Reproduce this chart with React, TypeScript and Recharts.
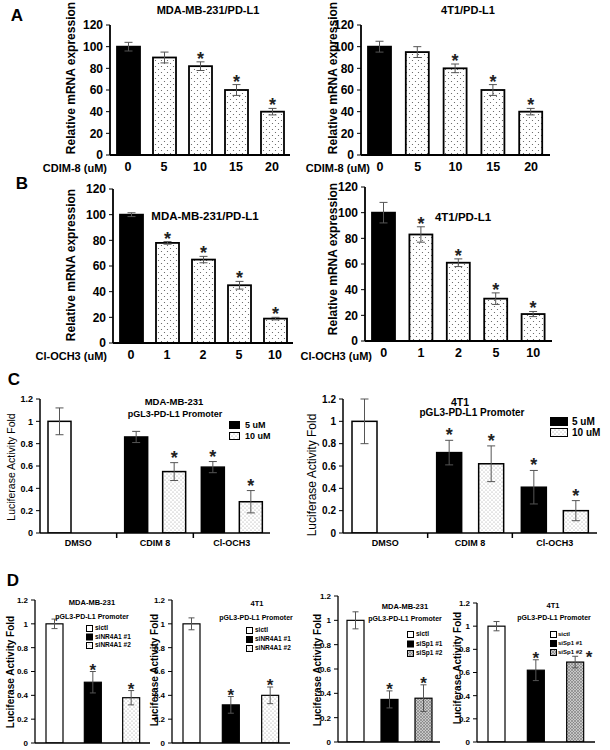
import React from "react";
import { BarChart, Bar, XAxis, YAxis, ErrorBar } from "recharts";

const FONT = '"Liberation Sans", Arial, sans-serif';

// A: CDIM-8 dose response, relative mRNA
const aDoses = ["0", "5", "10", "15", "20"];
const aMdaVals = [100, 90, 82, 60, 40];
const aMdaErrs = [4, 5, 4, 5, 3];
const a4t1Vals = [100, 95, 80, 60, 40];
const a4t1Errs = [5, 5, 4, 5, 3];
const aStars = [false, false, true, true, true];

// B: Cl-OCH3 dose response
const bDoses = ["0", "1", "2", "5", "10"];
const bMdaVals = [100, 78, 65, 45, 19];
const bMdaErrs = [1.5, 1, 2.5, 3, 1];
const b4t1Vals = [100, 83, 61, 33, 21];
const b4t1Errs = [8, 6, 3, 4.5, 2];
const bStars = [false, true, true, true, true];

const mrnaTicks = [0, 20, 40, 60, 80, 100, 120];
const foldTicks = [0, 0.2, 0.4, 0.6, 0.8, 1, 1.2];

// C: promoter luciferase, 5 uM / 10 uM
const cGroups = ["DMSO", "CDIM 8", "Cl-OCH3"];
const cDoses = ["5 uM", "10 uM"];
const cMda5 = [1.0, 0.86, 0.59];
const cMda5Err = [0.12, 0.05, 0.05];
const cMda5Star = [false, false, true];
const cMda10 = [null, 0.55, 0.28];
const cMda10Err = [null, 0.08, 0.1];
const cMda10Star = [false, true, true];
const c4t15 = [1.0, 0.72, 0.41];
const c4t15Err = [0.2, 0.11, 0.15];
const c4t15Star = [false, true, true];
const c4t110 = [null, 0.62, 0.2];
const c4t110Err = [null, 0.16, 0.09];
const c4t110Star = [false, true, true];

// D: knockdown
const dNr4a1 = ["sictl", "siNR4A1 #1", "siNR4A1 #2"];
const dSp1 = ["sictl", "siSp1 #1", "siSp1 #2"];
const dStars = [false, true, true];
const d1Vals = [1.0, 0.51, 0.38];
const d1Errs = [0.04, 0.09, 0.06];
const d2Vals = [1.0, 0.32, 0.4];
const d2Errs = [0.05, 0.07, 0.07];
const d3Vals = [1.0, 0.35, 0.36];
const d3Errs = [0.07, 0.07, 0.11];
const d4Vals = [1.0, 0.62, 0.69];
const d4Errs = [0.04, 0.09, 0.05];

const rows1 = (cats: string[], v: number[], e: number[], s: boolean[]) =>
  cats.map((name, i) => ({ name, v1: v[i], e1: e[i], s1: s[i] }));

const rows2 = (
  cats: string[],
  v1: (number | null)[], e1: (number | null)[], s1: boolean[],
  v2: (number | null)[], e2: (number | null)[], s2: boolean[]
) =>
  cats.map((name, i) => ({
    name, v1: v1[i], e1: e1[i], s1: s1[i], v2: v2[i], e2: e2[i], s2: s2[i],
  }));

type Series = { key: string; errKey: string; starKey: string; fills: string[] };

type PanelProps = {
  left: number;
  top: number;
  plotW: number;
  plotH: number;
  data: any[];
  series: Series[];
  yMax: number;
  yTicks: number[];
  yFont: number;
  xFont?: number;
  showX?: boolean;
  sepTicks?: boolean;
  barSize: number;
  barGap?: number;
  capW: number;
  strokeW: number;
  axisW: number;
  starSize: number;
  starDy: number;
  starDx?: number[];
  xDy?: number;
};

function Panel(p: PanelProps) {
  const yW = 40;
  const mt = 20;
  const mr = 4;
  const xH = p.showX === false ? 4 : 26;
  const axisY = mt + p.plotH;
  const n = p.data.length;
  const bandW = p.plotW / n;

  const xTick = (tp: any) => {
    const idx = tp.index ?? tp.payload?.index ?? 0;
    return (
      <g>
        <text
          x={tp.x}
          y={axisY + (p.xDy ?? 16)}
          textAnchor="middle"
          fontSize={p.xFont}
          fontWeight="bold"
          fontFamily={FONT}
          fill="#000"
        >
          {tp.payload.value}
        </text>
        {p.sepTicks && idx < n - 1 && (
          <line
            x1={tp.x + bandW / 2}
            x2={tp.x + bandW / 2}
            y1={axisY}
            y2={axisY + 5}
            stroke="#000"
            strokeWidth={1.5}
          />
        )}
      </g>
    );
  };

  const makeShape = (s: Series) => (b: any) => {
    const row = b.payload;
    const v = row[s.key];
    if (v == null || !isFinite(b.height)) return <g />;
    const e = row[s.errKey] ?? 0;
    const errTop = b.y - (b.height * e) / v;
    const dx = p.starDx ? p.starDx[b.index] ?? 0 : 0;
    return (
      <g>
        <rect
          x={b.x}
          y={b.y}
          width={b.width}
          height={b.height}
          fill={s.fills[b.index]}
          stroke="#000"
          strokeWidth={p.strokeW}
        />
        {row[s.starKey] && (
          <text
            x={b.x + b.width / 2 + dx}
            y={errTop + p.starDy + (dx ? 3 : 0)}
            textAnchor="middle"
            fontSize={p.starSize}
            fontWeight="bold"
            fontFamily={FONT}
            fill="#222"
          >
            *
          </text>
        )}
      </g>
    );
  };

  return (
    <div style={{ position: "absolute", left: p.left - yW, top: p.top - mt }}>
      <BarChart
        width={yW + p.plotW + mr}
        height={mt + p.plotH + xH}
        data={p.data}
        margin={{ top: mt, right: mr, left: 0, bottom: 0 }}
        barSize={p.barSize}
        barGap={p.barGap ?? 4}
      >
        <XAxis
          dataKey="name"
          height={xH}
          axisLine={{ stroke: "#000", strokeWidth: p.axisW }}
          tickLine={false}
          tick={p.showX === false ? false : xTick}
          interval={0}
        />
        <YAxis
          width={yW}
          domain={[0, p.yMax]}
          ticks={p.yTicks}
          interval={0}
          allowDataOverflow
          axisLine={{ stroke: "#000", strokeWidth: p.axisW }}
          tickLine={{ stroke: "#000", strokeWidth: 1 }}
          tickSize={4}
          tickMargin={3}
          tick={{ fontSize: p.yFont, fontWeight: "bold", fill: "#000", fontFamily: FONT }}
        />
        {p.series.map((s) => (
          <Bar key={s.key} dataKey={s.key} isAnimationActive={false} shape={makeShape(s)}>
            <ErrorBar dataKey={s.errKey} width={p.capW} stroke="#555" strokeWidth={1} direction="y" />
          </Bar>
        ))}
      </BarChart>
    </div>
  );
}

function Txt(props: {
  x: number; y: number; text: string; size: number;
  bold?: boolean; anchor?: "start" | "middle" | "end"; rotate?: boolean;
}) {
  const { x, y, text, size, bold = true, anchor = "middle", rotate = false } = props;
  const tx = anchor === "middle" ? "-50%" : anchor === "end" ? "-100%" : "0";
  return (
    <div
      style={{
        position: "absolute",
        left: x,
        top: y,
        transform: `translate(${tx}, -50%)${rotate ? " rotate(-90deg)" : ""}`,
        fontFamily: FONT,
        fontSize: size,
        fontWeight: bold ? "bold" : "normal",
        whiteSpace: "nowrap",
        lineHeight: 1,
        color: "#000",
      }}
    >
      {text}
    </div>
  );
}

function Legend(props: {
  x: number; y: number; labels: string[]; fills: string[];
  box: [number, number]; gap: number; size: number; textX: number;
}) {
  const { x, y, labels, fills, box, gap, size, textX } = props;
  return (
    <svg
      style={{ position: "absolute", left: x, top: y, overflow: "visible" }}
      width={80}
      height={gap * labels.length}
    >
      {labels.map((l, i) => (
        <g key={l}>
          <rect x={0.5} y={i * gap + 0.5} width={box[0]} height={box[1]} fill={fills[i]} stroke="#000" strokeWidth={1} />
          <text
            x={textX}
            y={i * gap + box[1] / 2 + size * 0.36}
            fontSize={size}
            fontWeight="bold"
            fontFamily={FONT}
          >
            {l}
          </text>
        </g>
      ))}
    </svg>
  );
}

const DOTS_A = "url(#dotsA)";
const DOTS_C = "url(#dotsC)";
const HATCH = "url(#hatch)";

const abFills = ["#000", DOTS_A, DOTS_A, DOTS_A, DOTS_A];
const abSeries: Series[] = [{ key: "v1", errKey: "e1", starKey: "s1", fills: abFills }];
const cSeries: Series[] = [
  { key: "v1", errKey: "e1", starKey: "s1", fills: ["#fff", "#000", "#000"] },
  { key: "v2", errKey: "e2", starKey: "s2", fills: [DOTS_C, DOTS_C, DOTS_C] },
];
const dSeriesNr: Series[] = [{ key: "v1", errKey: "e1", starKey: "s1", fills: ["#fff", "#000", DOTS_C] }];
const dSeriesSp: Series[] = [{ key: "v1", errKey: "e1", starKey: "s1", fills: ["#fff", "#000", HATCH] }];

const abCommon = {
  yMax: 120, yTicks: mrnaTicks, yFont: 12, xFont: 12.5, barSize: 23,
  capW: 4, strokeW: 1.8, axisW: 1.8, starSize: 18, starDy: 3, xDy: 16,
};
const cCommon = {
  yMax: 1.2, yTicks: foldTicks, xFont: 9, sepTicks: true,
  capW: 4, strokeW: 1.5, axisW: 1.5, starSize: 18, starDy: 1, xDy: 13,
};
const dCommon = {
  yMax: 1.2, yTicks: foldTicks, yFont: 8, showX: false, barSize: 17,
  capW: 3, strokeW: 1.2, axisW: 1.3, starSize: 17, starDy: 4,
};

export default function App() {
  return (
    <div style={{ position: "absolute", left: 0, top: 0, width: 610, height: 750, background: "#fff", overflow: "hidden" }}>
      <svg width={0} height={0} style={{ position: "absolute" }}>
        <defs>
          <pattern id="dotsA" width={6} height={6} patternUnits="userSpaceOnUse">
            <rect width={6} height={6} fill="#fff" />
            <circle cx={1.5} cy={1.5} r={0.6} fill="#555" />
            <circle cx={4.5} cy={4.5} r={0.6} fill="#555" />
          </pattern>
          <pattern id="dotsC" width={4} height={4} patternUnits="userSpaceOnUse">
            <rect width={4} height={4} fill="#fff" />
            <circle cx={1} cy={1} r={0.5} fill="#888" />
            <circle cx={3} cy={3} r={0.5} fill="#888" />
          </pattern>
          <pattern id="hatch" width={3} height={3} patternUnits="userSpaceOnUse">
            <rect width={3} height={3} fill="#c8c8c8" />
            <path d="M0,0 L3,3 M3,0 L0,3" stroke="#777" strokeWidth={0.6} />
          </pattern>
        </defs>
      </svg>

      {/* panel letters */}
      <Txt x={17} y={15} text="A" size={17} />
      <Txt x={22} y={183} text="B" size={17} />
      <Txt x={14} y={379} text="C" size={17} />
      <Txt x={13} y={580} text="D" size={17} />

      {/* A */}
      <Panel left={110} top={25} plotW={180} plotH={130} data={rows1(aDoses, aMdaVals, aMdaErrs, aStars)} series={abSeries} {...abCommon} />
      <Panel left={361} top={25} plotW={189} plotH={130} data={rows1(aDoses, a4t1Vals, a4t1Errs, aStars)} series={abSeries} {...abCommon} />
      <Txt x={208} y={10} text="MDA-MB-231/PD-L1" size={11} />
      <Txt x={468} y={10} text="4T1/PD-L1" size={11} />
      <Txt x={71} y={78} text="Relative mRNA expression" size={12} rotate />
      <Txt x={333} y={78} text="Relative mRNA expression" size={12} rotate />
      <Txt x={107} y={168} text="CDIM-8 (uM)" size={11} anchor="end" />
      <Txt x={370} y={168} text="CDIM-8 (uM)" size={11} anchor="end" />

      {/* B */}
      <Panel left={113} top={189} plotW={180} plotH={154} data={rows1(bDoses, bMdaVals, bMdaErrs, bStars)} series={abSeries} {...abCommon} />
      <Panel left={365} top={187} plotW={187} plotH={154} data={rows1(bDoses, b4t1Vals, b4t1Errs, bStars)} series={abSeries} {...abCommon} />
      <Txt x={205} y={217} text="MDA-MB-231/PD-L1" size={11.5} />
      <Txt x={463} y={218} text="4T1/PD-L1" size={11.5} />
      <Txt x={71} y={265} text="Relative mRNA expression" size={12} rotate />
      <Txt x={333} y={259} text="Relative mRNA expression" size={12} rotate />
      <Txt x={107} y={356} text="Cl-OCH3 (uM)" size={11} anchor="end" />
      <Txt x={372} y={356} text="Cl-OCH3 (uM)" size={11} anchor="end" />

      {/* C */}
      <Panel left={40} top={399} plotW={230} plotH={134} yFont={9} barSize={23} barGap={15}
        data={rows2(cGroups, cMda5, cMda5Err, cMda5Star, cMda10, cMda10Err, cMda10Star)} series={cSeries} {...cCommon} />
      <Panel left={343} top={399} plotW={254} plotH={134} yFont={10} barSize={25} barGap={17}
        data={rows2(cGroups, c4t15, c4t15Err, c4t15Star, c4t110, c4t110Err, c4t110Star)} series={cSeries} {...cCommon} />
      <Txt x={174} y={402} text="MDA-MB-231" size={9.5} />
      <Txt x={175} y={414} text="pGL3-PD-L1 Promoter" size={9} />
      <Txt x={460} y={402} text="4T1" size={10.5} />
      <Txt x={472} y={413} text="pGL3-PD-L1 Promoter" size={10} />
      <Txt x={11} y={467} text="Luciferase Activity Fold" size={10.5} bold={false} rotate />
      <Txt x={312} y={475} text="Luciferase Activity Fold" size={12} bold={false} rotate />
      <Legend x={229} y={421} labels={cDoses} fills={["#000", DOTS_C]} box={[10, 7]} gap={11} size={9} textX={16} />
      <Legend x={550} y={417} labels={cDoses} fills={["#000", DOTS_C]} box={[17, 8]} gap={11} size={10} textX={22} />

      {/* D */}
      <Panel left={35} top={600} plotW={115} plotH={143} data={rows1(dNr4a1, d1Vals, d1Errs, dStars)} series={dSeriesNr} {...dCommon} />
      <Panel left={172} top={600} plotW={118} plotH={143} data={rows1(dNr4a1, d2Vals, d2Errs, dStars)} series={dSeriesNr} {...dCommon} />
      <Panel left={338} top={596} plotW={102} plotH={146} data={rows1(dSp1, d3Vals, d3Errs, dStars)} series={dSeriesSp} {...dCommon} />
      <Panel left={477} top={603} plotW={118} plotH={139} data={rows1(dSp1, d4Vals, d4Errs, dStars)} series={dSeriesSp} {...dCommon}
        starDx={[0, 0, 14]} />

      <Txt x={92} y={603} text="MDA-MB-231" size={7.5} />
      <Txt x={92} y={616} text="pGL3-PD-L1 Promoter" size={7} />
      <Txt x={257} y={604} text="4T1" size={7.5} />
      <Txt x={256} y={617} text="pGL3-PD-L1 Promoter" size={7} />
      <Txt x={405} y={607} text="MDA-MB-231" size={7.5} />
      <Txt x={405} y={618} text="pGL3-PD-L1 Promoter" size={7} />
      <Txt x={553} y={606} text="4T1" size={7.5} />
      <Txt x={554} y={617} text="pGL3-PD-L1 Promoter" size={7} />

      <Txt x={11} y={672} text="Luciferase Activity Fold" size={10} rotate />
      <Txt x={155} y={670} text="Luciferase Activity Fold" size={10} rotate />
      <Txt x={318} y={670} text="Luciferase Activity Fold" size={10} rotate />
      <Txt x={458} y={668} text="Luciferase Activity Fold" size={10} rotate />

      <Legend x={86} y={625} labels={dNr4a1} fills={["#fff", "#000", DOTS_C]} box={[6, 6]} gap={8.5} size={6.5} textX={9} />
      <Legend x={246} y={627} labels={dNr4a1} fills={["#fff", "#000", DOTS_C]} box={[6, 6]} gap={9} size={6.5} textX={9} />
      <Legend x={407} y={631} labels={dSp1} fills={["#fff", "#000", HATCH]} box={[6, 6]} gap={9.5} size={6.5} textX={9} />
      <Legend x={550} y={631} labels={dSp1} fills={["#fff", "#000", HATCH]} box={[6, 6]} gap={9} size={6} textX={8} />
    </div>
  );
}
